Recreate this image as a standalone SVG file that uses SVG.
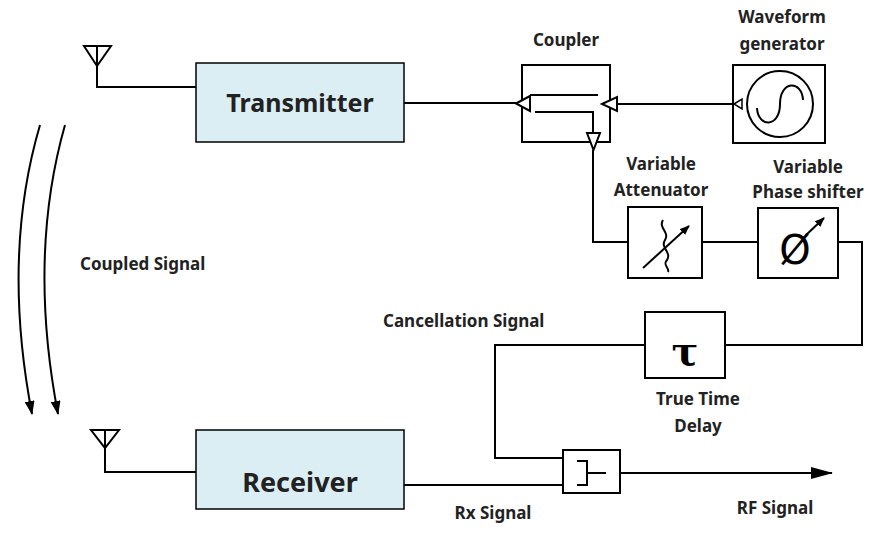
<svg xmlns="http://www.w3.org/2000/svg" width="881" height="541" viewBox="0 0 881 541">
<style>
.b{fill:#fff;stroke:#000;stroke-width:2}
.blk{fill:#dbeef4;stroke:#000;stroke-width:1.5}
.w{fill:none;stroke:#000;stroke-width:2}
.t{font-family:"Noto Sans","DejaVu Sans",sans-serif;font-weight:bold;font-size:17px;fill:#222;text-anchor:middle}
.tri{fill:#fff;stroke:#000;stroke-width:2}
</style>
<defs>
<marker id="ah" markerWidth="10" markerHeight="8" refX="9" refY="4" orient="auto" markerUnits="userSpaceOnUse"><path d="M0,0L10,4L0,8z" fill="#000"/></marker>
<marker id="ah3" markerWidth="14" markerHeight="10" refX="13" refY="5" orient="auto" markerUnits="userSpaceOnUse"><path d="M0,0L14,5L0,10z" fill="#000"/></marker>
<marker id="ah2" markerWidth="22" markerHeight="12" refX="21" refY="6" orient="auto" markerUnits="userSpaceOnUse"><path d="M0,0L22,6L0,12z" fill="#000"/></marker>
</defs>
<rect width="881" height="541" fill="#fff"/>
<g id="tx-antenna"><path class="w" d="M84,46L111,46L97,66Z M97,46V87H196"/></g>
<g id="rx-antenna"><path class="w" d="M91,430L119,430L105,448Z M105,430V472H196"/></g>
<g id="transmitter"><rect class="blk" x="196" y="63" width="208" height="79"/><text class="t" x="300" y="112" style="font-size:25px">Transmitter</text></g>
<g id="receiver"><rect class="blk" x="196" y="430" width="208" height="79"/><text class="t" x="300" y="492" style="font-size:27px">Receiver</text></g>
<g id="coupler"><rect class="b" x="522" y="65" width="88" height="77"/>
<path class="w" d="M530,95H598 M535,112H593V133"/>
<path class="tri" d="M516,103.5L530,96V111Z M602,104L617,97V111Z M587,133H600L593.5,150Z"/>
<text class="t" x="566" y="46">Coupler</text></g>
<g id="waveform-generator"><rect class="b" x="733" y="65" width="92" height="78"/>
<circle class="w" cx="780" cy="104" r="33"/>
<path class="w" d="M757,108C758,128 780,128 780,104C780,80 802,80 803,100"/>
<path class="tri" d="M734,104L742,99V109Z" style="stroke-width:1.5"/>
<text class="t" x="782" y="23">Waveform</text><text class="t" x="782" y="50">generator</text></g>
<g id="attenuator"><rect class="b" x="628" y="207" width="74" height="71"/>
<path class="w" d="M663,220C658,228 670,232 665,240C660,248 672,252 667,260C662,265 670,268 668,272"/>
<path class="w" d="M643,268L689,226" marker-end="url(#ah)"/>
<text class="t" x="661" y="170">Variable</text><text class="t" x="661" y="196">Attenuator</text></g>
<g id="phase-shifter"><rect class="b" x="758" y="208" width="80" height="70"/>
<text x="795" y="264" style="font-family:'DejaVu Sans',sans-serif;font-size:40px;fill:#000;text-anchor:middle">Ø</text>
<path class="w" d="M805,236L824,218" marker-end="url(#ah)"/>
<text class="t" x="808" y="173">Variable</text><text class="t" x="808" y="198">Phase shifter</text></g>
<g id="delay"><rect class="b" x="645" y="312" width="80" height="66"/>
<text x="685" y="365" style="font-family:'DejaVu Serif',serif;font-weight:bold;font-size:40px;fill:#000;text-anchor:middle">τ</text>
<text class="t" x="698" y="405">True Time</text><text class="t" x="698" y="432">Delay</text></g>
<g id="combiner"><rect class="b" x="563" y="450" width="57" height="43"/>
<path class="w" d="M577,461H587V485H577 M587,473H606"/></g>
<g id="connectors">
<path class="w" d="M404,103H516"/>
<path class="w" d="M617,104H734"/>
<path class="w" d="M593,150V242H628"/>
<path class="w" d="M702,242H758"/>
<path class="w" d="M838,242H862V345H725"/>
<path class="w" d="M645,345H495V458H563"/>
<path class="w" d="M404,485H563"/>
<path class="w" d="M620,473H832" marker-end="url(#ah2)"/>
<path class="w" d="M40,125C12,220 14,320 32,414" marker-end="url(#ah3)"/>
<path class="w" d="M65,125C38,220 40,320 58,414" marker-end="url(#ah3)"/>
</g>
<g id="labels">
<text class="t" x="80" y="270" style="text-anchor:start">Coupled Signal</text>
<text class="t" x="383" y="327" style="text-anchor:start">Cancellation Signal</text>
<text class="t" x="493" y="519">Rx Signal</text>
<text class="t" x="775" y="514">RF Signal</text>
</g>
</svg>
